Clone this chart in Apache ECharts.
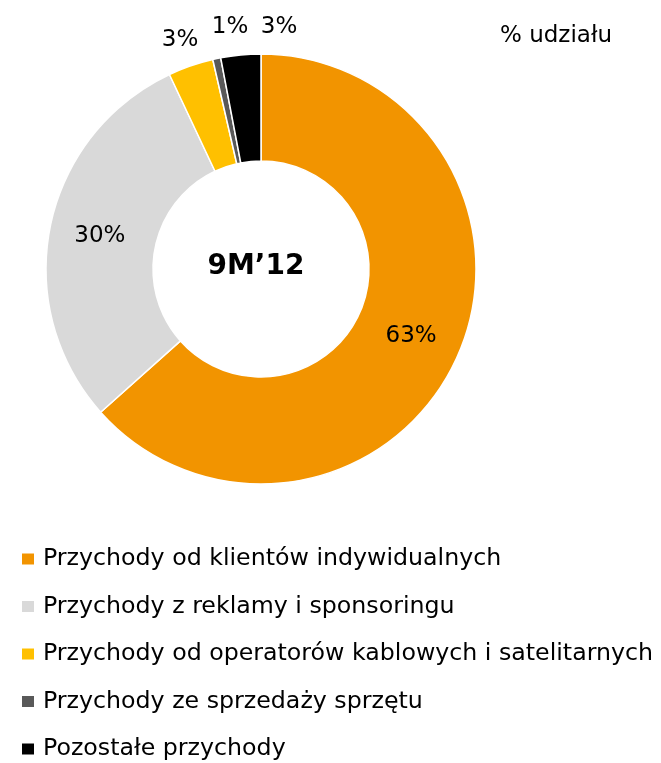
<!DOCTYPE html>
<html>
<head>
    <meta charset="UTF-8">
    <title>Struktura przychodów 9M'12</title>
    <script src="https://cdn.jsdelivr.net/npm/echarts@6/dist/echarts.min.js"></script>
    <style>
        html, body { margin: 0; padding: 0; background: #fff; }
        #chart { width: 661px; height: 763px; }
    </style>
</head>
<body>
<div id="chart"></div>
<script>
    // dane: udział w przychodach (%), kolejność zgodnie z ruchem wskazówek zegara od góry
    var categories = [
        "Przychody od klientów indywidualnych",
        "Przychody z reklamy i sponsoringu",
        "Przychody od operatorów kablowych i satelitarnych",
        "Przychody ze sprzedaży sprzętu",
        "Pozostałe przychody"
    ];
    var shares = [63.4, 29.6, 3.4, 0.6, 3.0];
    var colors = ["#F29400", "#D9D9D9", "#FFC000", "#595959", "#000000"];
    var centerText = "9M’12";
    var unitText = "% udziału";

    var font = "'DejaVu Sans', sans-serif";

    // ręczne położenie etykiet małych wycinków (nad pierścieniem)
    var smallLabelPos = { 2: [180, 40], 3: [230, 27], 4: [279, 27] };

    var chart = echarts.init(document.getElementById("chart"));
    var option = {
        animation: false,
        title: {
            text: unitText,
            left: 500,
            top: 25,
            padding: 0,
            textStyle: { fontFamily: font, fontSize: 23, fontWeight: "normal", color: "#000" }
        },
        legend: {
            orient: "vertical",
            left: 20,
            top: 546,
            height: 230,
            padding: 0,
            icon: "rect",
            itemWidth: 14,
            itemHeight: 13,
            itemGap: 21.5,
            data: categories,
            textStyle: { fontFamily: font, fontSize: 23.7, color: "#000", lineHeight: 26, padding: [0, 0, 0, 3] }
        },
        graphic: [{
            type: "text",
            x: 256,
            y: 267,
            style: {
                text: centerText,
                fontFamily: font,
                fontSize: 28,
                fontWeight: "bold",
                fill: "#000",
                align: "center",
                verticalAlign: "middle"
            }
        }],
        series: [{
            type: "pie",
            center: [261, 269],
            radius: [108, 215],
            startAngle: 90,
            clockwise: true,
            avoidLabelOverlap: false,
            itemStyle: { borderColor: "#fff", borderWidth: 1.5 },
            label: {
                position: "inside",
                formatter: function (p) { return Math.round(p.value) + "%"; },
                fontFamily: font,
                fontSize: 23,
                color: "#000"
            },
            labelLine: { show: false },
            labelLayout: function (p) {
                var pos = smallLabelPos[p.dataIndex];
                if (pos) {
                    return { x: pos[0], y: pos[1], align: "center", verticalAlign: "middle" };
                }
            },
            emphasis: { disabled: true },
            data: categories.map(function (name, i) {
                return { name: name, value: shares[i], itemStyle: { color: colors[i] } };
            })
        }]
    };
    chart.setOption(option);
</script>
</body>
</html>
